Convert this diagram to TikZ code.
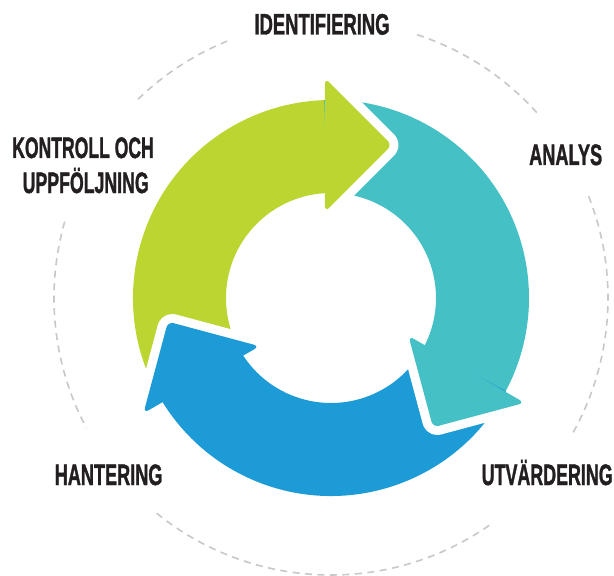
\documentclass[tikz,border=0pt]{standalone}
\usepackage{fontspec}
\setmainfont{Liberation Sans}
\newfontfamily\lblfont[BoldFeatures={FakeBold=1.6}]{Liberation Sans}
\usepackage{graphicx}
\definecolor{limegreen}{RGB}{188,213,49}
\definecolor{tealc}{RGB}{69,192,196}
\definecolor{bluec}{RGB}{28,155,215}
\definecolor{dashgray}{RGB}{200,200,200}
\definecolor{labeldark}{RGB}{35,31,32}
\tikzset{
  ring/.style={draw=dashgray, line width=1.6pt, dash pattern=on 7pt off 5.5pt},
  gapline/.style={draw=white, line width=18pt, line join=round, rounded corners=6pt},
  headfill/.style={rounded corners=6pt},
  lbl/.style={anchor=base, inner sep=0pt, text=labeldark, font=\fontsize{29.5}{30}\lblfont\bfseries}
}
\newcommand\shaftpath{(212:198) arc[start angle=212, end angle=90.5, radius=198] -- (90.5:105) arc[start angle=90.5, end angle=212, radius=105] -- cycle}
\begin{document}
\begin{tikzpicture}[x=1pt,y=1pt]
\useasboundingbox (-331,-278) rectangle (283,298);
\fill[white] (-331,-278) rectangle (283,298);
% dashed ring
\draw[ring] (112:277) arc[start angle=112, end angle=135, radius=277];
\draw[ring] (42:277) arc[start angle=42, end angle=72, radius=277];
\draw[ring] (-29:277) arc[start angle=-29, end angle=22, radius=277];
\draw[ring] (-129:277) arc[start angle=-129, end angle=-55, radius=277];
\draw[ring] (164:277) arc[start angle=164, end angle=208, radius=277];
% shafts
\fill[limegreen] \shaftpath;
\begin{scope}[rotate=-120]
  \fill[tealc] \shaftpath;
\end{scope}
\begin{scope}[rotate=120]
  \fill[bluec] \shaftpath;
\end{scope}
% heads
\draw[gapline] (-6,220) -- (61,153) -- (-6,86);
\fill[limegreen, headfill] (-6,220) -- (61,153) -- (-6,86) -- cycle;
\begin{scope}[rotate=-120]
  \draw[gapline] (-6,220) -- (61,153) -- (-6,86);
  \fill[tealc, headfill] (-6,220) -- (61,153) -- (-6,86) -- cycle;
\end{scope}
\begin{scope}[rotate=120]
  \draw[gapline] (-6,220) -- (61,153) -- (-6,86);
  \fill[bluec, headfill] (-6,220) -- (61,153) -- (-6,86) -- cycle;
\end{scope}
% labels
\node[lbl] (identifiering) at (-9,263.5) {\resizebox{135pt}{\height}{IDENTIFIERING}};
\node[lbl] (analys) at (234.7,133) {\resizebox{73pt}{\height}{ANALYS}};
\node[lbl] (kontroll) at (-248,140) {\resizebox{141.5pt}{\height}{KONTROLL OCH}};
\node[lbl] (uppfoljning) at (-245.3,105) {\resizebox{126pt}{\height}{UPPFÖLJNING}};
\node[lbl] (hantering) at (-222.4,-187) {\resizebox{107.7pt}{\height}{HANTERING}};
\node[lbl] (utvardering) at (216.2,-187) {\resizebox{131pt}{\height}{UTVÄRDERING}};
\end{tikzpicture}
\end{document}
